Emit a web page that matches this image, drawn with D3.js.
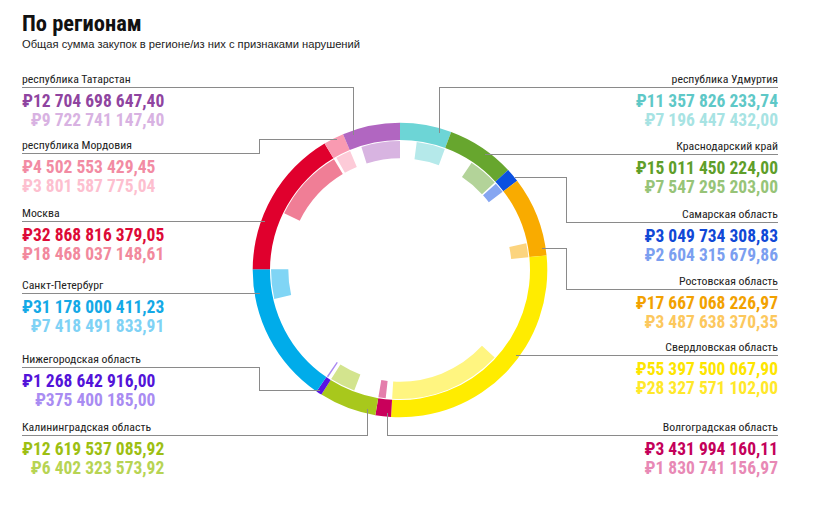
<!DOCTYPE html>
<html><head><meta charset="utf-8">
<script src="https://cdn.jsdelivr.net/npm/d3@7"></script>
<style>
body{margin:0;background:#fff}
svg{display:block}
.cond{font-family:"Roboto Condensed","Liberation Sans",Arial,sans-serif}
</style></head><body>
<svg id="chart" width="818" height="505"></svg>
<script>
// ---- data (clockwise from 12 o'clock) ----
const regions = ["республика Удмуртия","Краснодарский край","Самарская область","Ростовская область","Свердловская область","Волгоградская область","Калининградская область","Нижегородская область","Санкт-Петербург","Москва","республика Мордовия","республика Татарстан"];
const totals = [11357826233.74,15011450224.00,3049734308.83,17667068226.97,55397500067.90,3431994160.11,12619537085.92,1268642916.00,31178000411.23,32868816379.05,4502553429.45,12704698647.40];
const violations = [7196447432.00,7547295203.00,2604315679.86,3487638370.35,28327571102.00,1830741156.97,6402323573.92,375400185.00,7418491833.91,18468037148.61,3801587775.04,9722741147.40];
const colors = ["#6dd5d6","#67a62e","#0a50e0","#f9ab00","#ffec00","#c9005b","#a8c81c","#5a14e3","#00acea","#e0002d","#f99ab1","#b166c1"];
const lightColors = ["#b5e9ea","#b3d399","#86a6f1","#fcd47e","#fff580","#e47eac","#d3e48e","#aa88f2","#80d5f5","#f07e96","#fdcbd8","#d8b4e1"];
const textColors = ["#5ec8c7","#5f9e2a","#1048d6","#f2a100","#fde500","#c4005a","#9dbf12","#5313d9","#14a9e6","#dd0a36","#f28ba3","#8f44a0"];
const textLightColors = ["#a7e3e3","#97c478","#7b9ff0","#fcc85e","#ffe82a","#e889b5","#b7d453","#a98cf2","#7fd2f5","#f2899d","#fdbfcf","#d8b2e2"];

// ---- layout (label placement, not data) ----
const layout = [
  {side:"right", y:87,  path:[[778,87],[439,87],[439,133]]},
  {side:"right", y:154, path:[[778,154],[485,154]]},
  {side:"right", y:222, path:[[778,222],[566,222],[566,177],[515,177]]},
  {side:"right", y:289, path:[[778,289],[566,289],[566,248],[542,248]]},
  {side:"right", y:355, path:[[778,355],[516,355]]},
  {side:"right", y:435, path:[[778,435],[387,435],[387,413]]},
  {side:"left",  y:435, path:[[22,435],[367,435],[367,409]]},
  {side:"left",  y:367, path:[[22,367],[259,367],[259,390],[320,390]]},
  {side:"left",  y:293, path:[[22,293],[260,293]]},
  {side:"left",  y:221, path:[[22,221],[265,221]]},
  {side:"left",  y:153, path:[[22,153],[259,153],[259,139],[337,139]]},
  {side:"left",  y:87,  path:[[22,87],[353,87],[353,135]]}
];

const svg = d3.select("#chart");
const cx = 400, cy = 270;
const rOuter = 147.3, rOuterIn = 130, rInnerOut = 129, rInnerIn = 111.7;

const total = d3.sum(totals);
const angle = d3.scaleLinear().domain([0, total]).range([0, 2*Math.PI]);

const pie = d3.pie().sort(null).value(d => d)(totals);
const ring = svg.append("g").attr("transform", `translate(${cx},${cy})`);
const outerArc = d3.arc().innerRadius(rOuterIn).outerRadius(rOuter);
const innerArc = d3.arc().innerRadius(rInnerIn).outerRadius(rInnerOut);

ring.selectAll("path.inner").data(pie).join("path")
  .attr("class","inner")
  .attr("fill", (d,i) => lightColors[i])
  .attr("d", (d,i) => innerArc({startAngle: d.endAngle - angle(violations[i]), endAngle: d.endAngle}));

ring.selectAll("path.outer").data(pie).join("path")
  .attr("class","outer")
  .attr("fill", (d,i) => colors[i])
  .attr("d", outerArc);

// leader lines
const line = d3.line();
svg.append("g").selectAll("path").data(layout).join("path")
  .attr("d", d => line(d.path))
  .attr("fill","none").attr("stroke","#8a8a8a").attr("stroke-width",1)
  .attr("shape-rendering","crispEdges");

// number formatting
const loc = d3.formatLocale({decimal:",", thousands:"\u00a0", grouping:[3], currency:["₽",""]});
const fmt = v => "₽" + loc.format(",.2f")(v);

function ctext(g, x, y, anchor, size, weight, fill, str) {
  return g.append("text")
    .attr("x", x).attr("y", y)
    .attr("text-anchor", anchor)
    .attr("font-size", size).attr("font-weight", weight).attr("fill", fill)
    .text(str);
}

const labels = svg.append("g").attr("class","cond");
layout.forEach((L, i) => {
  const left = L.side === "left";
  const x = left ? 22 : 778;
  ctext(labels, x, L.y - 4, left ? "start" : "end", 11.8, "normal", "#222", regions[i]);
  const t1 = ctext(labels, x, L.y + 20, left ? "start" : "end", 17.5, "bold", textColors[i], fmt(totals[i]));
  const w = t1.node().getComputedTextLength();
  ctext(labels, left ? x + w : x, L.y + 39, "end", 17.5, "bold", textLightColors[i], fmt(violations[i]));
});

// titles
ctext(svg.append("g").attr("class","cond"), 22, 31, "start", 22.5, "bold", "#111", "По регионам");
svg.append("text").attr("x", 22).attr("y", 48)
  .attr("font-family","'Liberation Sans',Arial,sans-serif")
  .attr("font-size", 11.2).attr("fill","#222")
  .text("Общая сумма закупок в регионе/из них с признаками нарушений");
</script>
</body></html>
